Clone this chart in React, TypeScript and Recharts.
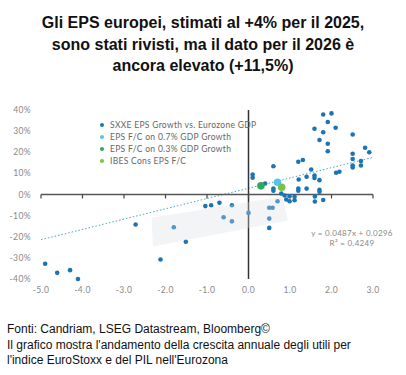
import {
  Legend,
  ReferenceLine,
  Scatter,
  ScatterChart,
  XAxis,
  YAxis,
} from "recharts";

// GDP growth (x, %) and EPS growth (y) for SXXE observations
const sxxeGdp = [
  1.8, 2.0, 1.91, 1.59, 1.8, 2.1, 2.51, 1.71, 1.91, 1.91, 2.81, 2.91, 2.51, 2.51, 2.51, 2.51,
  2.71, 2.71, 1.2, 1.31, 0.6, 1.51, 0.1, 0.1, 2.11, 2.19, 1.21, 1.4, 1.59, 1.59, 1.71, 0.4,
  0.6, 0.6, 1.2, 1.2, 1.4, 1.71, 1.71, 0.79, 0.87, 0.99, 1.11, 0.91, 0.99, 1.11, 1.6, 1.6,
  1.8, 0.5, 0.58, 0.5, 0.5, 0.0, -1.04, -0.9, -0.7, -0.4, -0.6, -0.4, -1.8, -1.51, -2.12,
  -2.72, -4.9, -4.61, -4.3, -4.11, 0.7,
];
const sxxeEps = [
  0.379, 0.384, 0.343, 0.311, 0.295, 0.316, 0.284, 0.258, 0.24, 0.205, 0.221, 0.2, 0.193,
  0.168, 0.137, 0.128, 0.158, 0.137, 0.155, 0.163, 0.134, 0.118, 0.095, 0.079, 0.103, 0.108,
  0.071, 0.084, 0.09, 0.078, 0.068, 0.052, 0.028, 0.018, 0.028, 0.018, 0.028, 0.022, 0.013,
  0.005, -0.005, -0.008, -0.011, -0.024, -0.032, -0.027, -0.009, -0.033, -0.026, -0.063,
  -0.063, -0.114, -0.158, -0.087, -0.055, -0.051, -0.039, -0.051, -0.108, -0.127, -0.155,
  -0.224, -0.308, -0.142, -0.328, -0.371, -0.358, -0.4, -0.032,
];

const fc07 = [{ x: 0.7, y: 0.058 }];
const fc03 = [{ x: 0.3, y: 0.041 }];
const ibes = [{ x: 0.8, y: 0.034 }];

const seriesOrder = [
  "SXXE EPS Growth vs. Eurozone GDP",
  "EPS F/C on 0.7% GDP Growth",
  "EPS F/C on 0.3% GDP Growth",
  "IBES Cons EPS F/C",
];

const xTicks = [-5, -4, -3, -2, -1, 0, 1, 2, 3];
const yTicks = [-0.4, -0.3, -0.2, -0.1, 0, 0.1, 0.2, 0.3, 0.4];

// regression from the chart label
const slope = 0.0487;
const intercept = 0.0296;

// shaded band corners (data coords)
const shadeX = [-2.34, 0.82, 0.95, -2.3];
const shadeY = [-0.11, -0.009, -0.123, -0.246];

const sxxe = sxxeGdp.map((x, i) => ({ x, y: sxxeEps[i] }));
const tickMarks = xTicks.map((x) => ({ x, y: 0 }));
const shade = shadeX.map((x, i) => ({ x, y: shadeY[i] }));

const font = "Lato, sans-serif";

function ShadeLine(props: any) {
  const pts = (props.points || []).map((p: any) => `${p.x},${p.y}`).join(" ");
  return <polygon points={pts} fill="#d8dee4" fillOpacity={0.32} stroke="none" />;
}

function TickMark(props: any) {
  const { cx, cy } = props;
  return <line x1={cx} y1={cy} x2={cx} y2={cy + 4} stroke="#444" strokeWidth={1.2} />;
}

function LegendBox({ payload }: any) {
  const items = [...(payload || [])].sort(
    (a: any, b: any) => seriesOrder.indexOf(a.value) - seriesOrder.indexOf(b.value)
  );
  return (
    <div style={{ fontFamily: font, fontSize: 8.5, color: "#666", letterSpacing: 0.3 }}>
      {items.map((p: any) => (
        <div key={p.value} style={{ display: "flex", alignItems: "center", height: 12 }}>
          <span
            style={{
              width: 4,
              height: 4,
              borderRadius: "50%",
              background: p.color,
              marginRight: 6,
              display: "inline-block",
            }}
          />
          {p.value}
        </div>
      ))}
    </div>
  );
}

export default function App() {
  return (
    <div
      style={{
        position: "absolute",
        left: 0,
        top: 0,
        width: 406,
        height: 375,
        background: "#fff",
      }}
    >
      <div
        style={{
          position: "absolute",
          top: 12,
          left: 0,
          width: 406,
          textAlign: "center",
          fontFamily: "'Liberation Sans', Arial, sans-serif",
          fontWeight: 700,
          fontSize: 16,
          lineHeight: "21.5px",
          color: "#111",
        }}
      >
        Gli EPS europei, stimati al +4% per il 2025,
        <br />
        sono stati rivisti, ma il dato per il 2026 è
        <br />
        ancora elevato (+11,5%)
      </div>

      <div style={{ position: "absolute", top: 80, left: 0 }}>
        <ScatterChart width={406} height={230} margin={{ top: 30, right: 33, bottom: 11, left: 8 }}>
          <XAxis
            type="number"
            dataKey="x"
            domain={[-5, 3]}
            ticks={xTicks}
            tickFormatter={(v: number) => v.toFixed(1)}
            axisLine={false}
            tickLine={false}
            height={20}
            tick={{ fill: "#888", fontSize: 8.5, fontFamily: font, letterSpacing: 0.4 }}
          />
          <YAxis
            type="number"
            dataKey="y"
            domain={[-0.4, 0.4]}
            ticks={yTicks}
            tickFormatter={(v: number) => `${Math.round(v * 100)}%`}
            axisLine={false}
            tickLine={false}
            tickMargin={4}
            width={33}
            tick={{ fill: "#888", fontSize: 8.5, fontFamily: font, letterSpacing: 0.4 }}
          />
          <Legend
            layout="vertical"
            align="center"
            verticalAlign="middle"
            content={<LegendBox />}
            wrapperStyle={{ left: 100, top: 14.5, width: "auto" }}
          />
          <ReferenceLine
            segment={[
              { x: -5, y: slope * -5 + intercept },
              { x: 3, y: slope * 3 + intercept },
            ]}
            stroke="#4aa8bd"
            strokeWidth={1}
            strokeDasharray="1.5 2"
          />
          <ReferenceLine x={0} stroke="#333" strokeWidth={1.5} />
          <ReferenceLine y={0} stroke="#555" strokeWidth={1.5} />
          <Scatter
            data={tickMarks}
            shape={<TickMark />}
            legendType="none"
            isAnimationActive={false}
          />
          <Scatter
            name="SXXE EPS Growth vs. Eurozone GDP"
            data={sxxe}
            fill="#1b75b3"
            shape={(p: any) => <circle cx={p.cx} cy={p.cy} r={2.3} fill="#1b75b3" />}
            isAnimationActive={false}
          />
          <Scatter
            data={shade}
            line={<ShadeLine />}
            lineType="joint"
            shape={() => <g />}
            legendType="none"
            isAnimationActive={false}
          />
          <Scatter
            name="EPS F/C on 0.7% GDP Growth"
            data={fc07}
            fill="#55c3ea"
            shape={(p: any) => <circle cx={p.cx} cy={p.cy} r={3.8} fill="#55c3ea" />}
            isAnimationActive={false}
          />
          <Scatter
            name="EPS F/C on 0.3% GDP Growth"
            data={fc03}
            fill="#2ea85a"
            shape={(p: any) => <circle cx={p.cx} cy={p.cy} r={3.8} fill="#2ea85a" />}
            isAnimationActive={false}
          />
          <Scatter
            name="IBES Cons EPS F/C"
            data={ibes}
            fill="#7cc242"
            shape={(p: any) => <circle cx={p.cx} cy={p.cy} r={3.8} fill="#7cc242" />}
            isAnimationActive={false}
          />
        </ScatterChart>
      </div>

      <div
        style={{
          position: "absolute",
          left: 292,
          top: 229,
          width: 120,
          textAlign: "center",
          fontFamily: font,
          fontSize: 8,
          lineHeight: "9.5px",
          color: "#888",
          letterSpacing: 0.3,
        }}
      >
        y = 0.0487x + 0.0296
        <br />
        R² = 0.4249
      </div>

      <div
        style={{
          position: "absolute",
          left: 7,
          top: 322,
          fontFamily: "'Liberation Sans', Arial, sans-serif",
          fontSize: 12,
          lineHeight: "15.5px",
          color: "#111",
          whiteSpace: "nowrap",
        }}
      >
        Fonti: Candriam, LSEG Datastream, Bloomberg©
        <br />
        Il grafico mostra l'andamento della crescita annuale degli utili per
        <br />
        l'indice EuroStoxx e del PIL nell'Eurozona
      </div>
    </div>
  );
}
